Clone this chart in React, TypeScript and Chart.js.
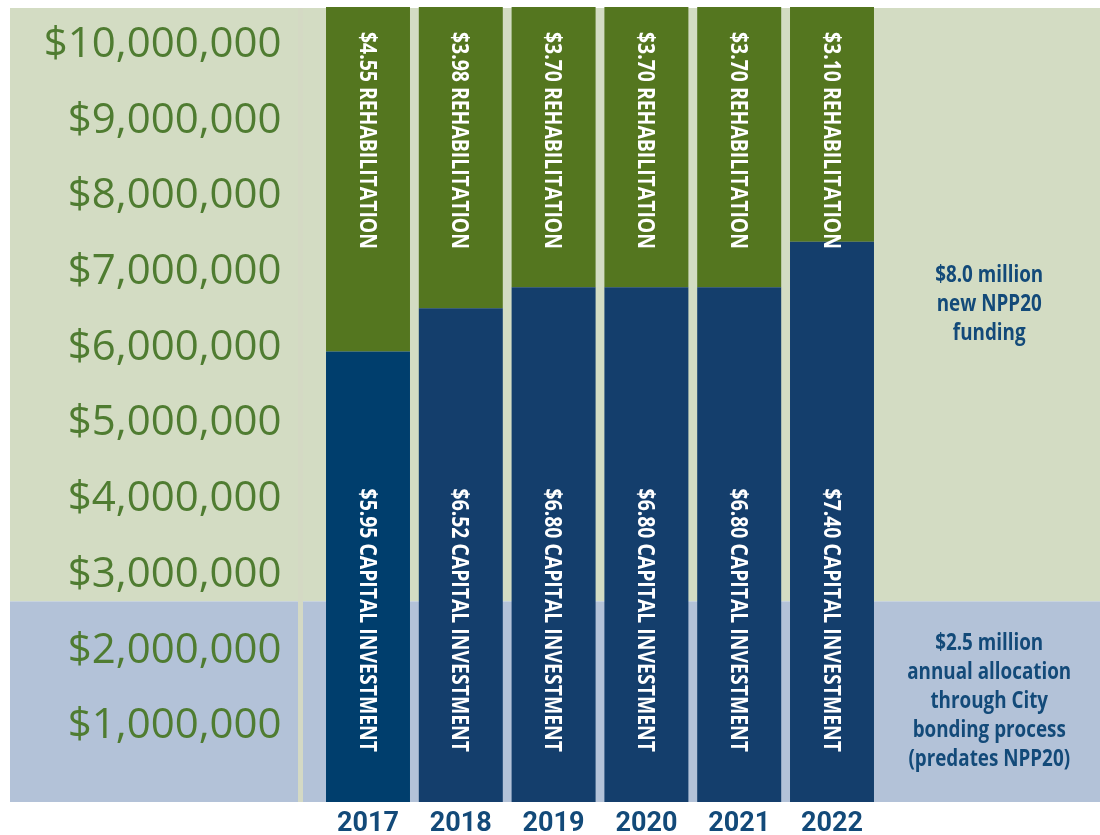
import { useEffect, useRef } from 'react';
import { Chart, registerables } from 'chart.js';

Chart.register(...registerables);

// ---- data (values in millions of dollars) ----
const YEARS = ['2017', '2018', '2019', '2020', '2021', '2022'];
const CAPITAL = [5.95, 6.52, 6.8, 6.8, 6.8, 7.4];
const REHAB = [4.55, 3.98, 3.7, 3.7, 3.7, 3.1];
const Y_TICKS = [1, 2, 3, 4, 5, 6, 7, 8, 9, 10];
const Y_MAX = 10.5;
const BAND_SPLIT = 2.65; // boundary of the lower (City bonding) band
const NOTE_TOP = ['$8.0 million', 'new NPP20', 'funding'];
const NOTE_BOTTOM = ['$2.5 million', 'annual allocation', 'through City', 'bonding process', '(predates NPP20)'];

const M = 1e6;
const BOLD_FAMILY = "'Open Sans', 'Noto Sans', sans-serif";
const GREEN_BAR = '#54761f';
const CAPITAL_COLORS = ['#003e6d', '#143e6c', '#143e6c', '#143e6c', '#143e6c', '#143e6c'];
const NOTE_COLOR = '#134a79';

export default function App() {
  const ref = useRef<HTMLCanvasElement>(null);

  useEffect(() => {
    const canvas = ref.current;
    if (!canvas) return;

    const bgPlugin = {
      id: 'bgPlugin',
      beforeDraw(chart: any) {
        const { ctx, chartArea, scales } = chart;
        const split = scales.y.getPixelForValue(BAND_SPLIT * M);
        const top = chartArea.top + 1;
        ctx.save();
        ctx.fillStyle = '#d3dcc3';
        ctx.fillRect(10, top, chart.width - 10, split - top);
        ctx.fillStyle = '#b3c2d8';
        ctx.fillRect(10, split, chart.width - 10, chartArea.bottom - split);
        ctx.fillStyle = '#d4d9c4';
        ctx.fillRect(298, top, 5, chartArea.bottom - top);
        ctx.restore();
      },
    };

    const barLabelPlugin = {
      id: 'barLabelPlugin',
      afterDatasetsDraw(chart: any) {
        const { ctx, chartArea } = chart;
        const capMeta = chart.getDatasetMeta(0);
        const rehMeta = chart.getDatasetMeta(1);
        ctx.save();
        ctx.fillStyle = '#ffffff';
        ctx.font = `bold 24px ${BOLD_FAMILY}`;
        const k = 217 / ctx.measureText('$4.55 REHABILITATION').width;
        const draw = (text: string, x: number, y: number, align: CanvasTextAlign) => {
          ctx.save();
          ctx.translate(x, y);
          ctx.rotate(Math.PI / 2);
          ctx.scale(k, 1);
          ctx.textAlign = align;
          ctx.textBaseline = 'alphabetic';
          ctx.fillText(text, 0, 8.5);
          ctx.restore();
        };
        YEARS.forEach((_, i) => {
          const r = rehMeta.data[i];
          const c = capMeta.data[i];
          draw(`$${REHAB[i].toFixed(2)} REHABILITATION`, r.x, r.y + 25, 'left');
          draw(`$${CAPITAL[i].toFixed(2)} CAPITAL INVESTMENT`, c.x, chartArea.bottom - 50, 'right');
        });
        ctx.restore();
      },
    };

    const notesPlugin = {
      id: 'notesPlugin',
      afterDraw(chart: any) {
        const { ctx, chartArea, scales } = chart;
        const split = scales.y.getPixelForValue(BAND_SPLIT * M);
        const cx = chartArea.right + (chart.width - chartArea.right) / 2;
        const lh = 29;
        ctx.save();
        ctx.fillStyle = NOTE_COLOR;
        ctx.font = `bold 23px ${BOLD_FAMILY}`;
        const k = 164 / ctx.measureText('annual allocation').width;
        ctx.textAlign = 'center';
        ctx.textBaseline = 'middle';
        const block = (lines: string[], center: number) => {
          const start = center - ((lines.length - 1) * lh) / 2;
          lines.forEach((t, j) => {
            ctx.save();
            ctx.translate(cx, start + j * lh);
            ctx.scale(k, 1);
            ctx.fillText(t, 0, 0);
            ctx.restore();
          });
        };
        block(NOTE_TOP, (chartArea.top + 1 + split) / 2);
        block(NOTE_BOTTOM, (split + chartArea.bottom) / 2);
        ctx.restore();
      },
    };

    const zeroPad = (s: any) => {
      s.paddingTop = 0;
      s.paddingBottom = 0;
      s.paddingLeft = 0;
      s.paddingRight = 0;
    };

    const chart = new Chart(canvas, {
      type: 'bar',
      data: {
        labels: YEARS,
        datasets: [
          {
            label: 'Capital investment',
            data: CAPITAL.map((v) => v * M),
            backgroundColor: CAPITAL_COLORS,
            stack: 's',
          },
          {
            label: 'Rehabilitation',
            data: REHAB.map((v) => v * M),
            backgroundColor: GREEN_BAR,
            stack: 's',
          },
        ],
      },
      options: {
        responsive: false,
        animation: false,
        devicePixelRatio: 1,
        layout: { padding: { left: 0, right: 221.6, top: 7, bottom: 0 } },
        plugins: { legend: { display: false }, tooltip: { enabled: false } },
        datasets: { bar: { categoryPercentage: 1, barPercentage: 0.905 } },
        scales: {
          x: {
            stacked: true,
            grid: { display: false, drawTicks: false },
            border: { display: false },
            ticks: {
              color: NOTE_COLOR,
              font: { family: "Roboto, 'Open Sans', sans-serif", weight: 'bold', size: 27 },
              padding: 6,
              maxRotation: 0,
            },
            afterFit(s: any) {
              s.height = 33;
              zeroPad(s);
            },
          },
          y: {
            stacked: true,
            min: 0,
            max: Y_MAX * M,
            grid: { display: false, drawTicks: false },
            border: { display: false },
            afterBuildTicks(s: any) {
              s.ticks = Y_TICKS.map((v) => ({ value: v * M }));
            },
            ticks: {
              color: '#4f7c31',
              font: { family: "'Open Sans', sans-serif", size: 42 },
              padding: 40,
              callback: (v: any) => '$' + Number(v).toLocaleString('en-US'),
            },
            afterFit(s: any) {
              s.width = 321.6;
              zeroPad(s);
            },
          },
        },
      } as any,
      plugins: [bgPlugin, barLabelPlugin, notesPlugin],
    });

    return () => chart.destroy();
  }, []);

  return (
    <div style={{ position: 'absolute', left: 0, top: 0, width: 1100, height: 835 }}>
      <canvas ref={ref} width={1100} height={835} style={{ width: 1100, height: 835, display: 'block' }} />
    </div>
  );
}
